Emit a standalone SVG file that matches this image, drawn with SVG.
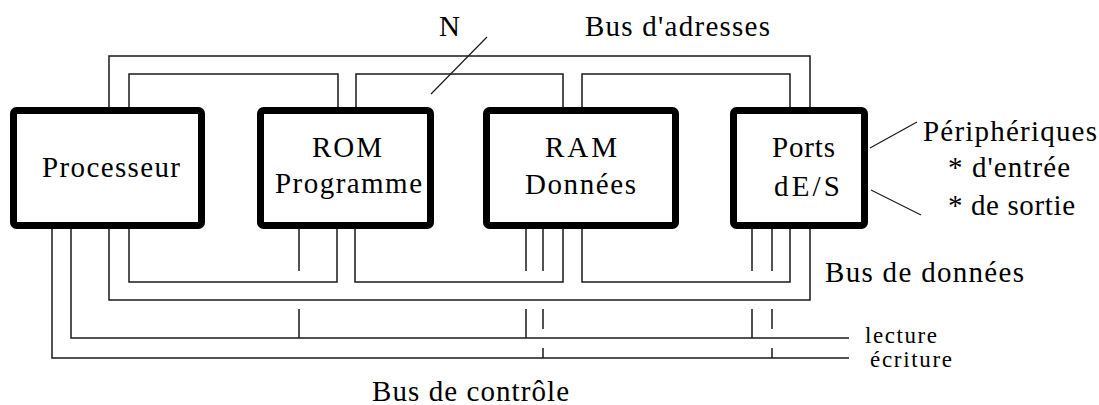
<svg xmlns="http://www.w3.org/2000/svg" width="1099" height="405" viewBox="0 0 1099 405">
  <style>
    .box { fill: #ffffff; stroke: #000000; stroke-width: 7; }
    .bus { fill: none; stroke: #1a1a1a; stroke-width: 1.5; stroke-linejoin: miter; }
    .thin { fill: none; stroke: #1a1a1a; stroke-width: 1.2; }
    text { font-family: "Liberation Serif", "DejaVu Serif", serif; font-size: 29px; fill: #000000; }
    .small { font-size: 23px; }
  </style>
  <rect x="0" y="0" width="1099" height="405" fill="#ffffff"/>

  <g id="connectors">
    <!-- Bus d'adresses -->
    <path class="bus" d="M109,110 V56 H810 V110"/>
    <path class="bus" d="M129,110 V74 H338 V110"/>
    <path class="bus" d="M356,110 V74 H563 V110"/>
    <path class="bus" d="M582,110 V74 H790 V110"/>
    <!-- Bus de données -->
    <path class="bus" d="M129,226 V282 H337 V226"/>
    <path class="bus" d="M355,226 V282 H563 V226"/>
    <path class="bus" d="M582,226 V282 H790 V226"/>
    <path class="bus" d="M109,226 V300 H810 V226"/>
    <!-- Bus de contrôle -->
    <path class="bus" d="M71,226 V338 H849"/>
    <path class="bus" d="M52,226 V358 H849"/>
    <!-- Stubs -->
    <path class="bus" d="M299,226 V271 M299,309 V338"/>
    <path class="bus" d="M526,226 V271 M526,309 V338"/>
    <path class="bus" d="M543,226 V271 M543,309 V329 M543,348 V358"/>
    <path class="bus" d="M752,226 V271 M752,309 V338"/>
    <path class="bus" d="M772,226 V271 M772,309 V329 M772,348 V358"/>
    <!-- N slash -->
    <path class="thin" d="M487,37 L431,94"/>
    <!-- Peripheral lines -->
    <path class="thin" d="M870,148 L917,122"/>
    <path class="thin" d="M871,190 L921,215"/>
  </g>

  <g id="processeur">
    <rect class="box" x="13.5" y="110.5" width="188" height="115" rx="3"/>
    <text x="42" y="177" textLength="138" lengthAdjust="spacing">Processeur</text>
  </g>
  <g id="rom">
    <rect class="box" x="260.5" y="110.5" width="170" height="115" rx="3"/>
    <text x="312" y="157" textLength="70" lengthAdjust="spacing">ROM</text>
    <text x="275" y="193" textLength="147" lengthAdjust="spacing">Programme</text>
  </g>
  <g id="ram">
    <rect class="box" x="486.5" y="110.5" width="189" height="115" rx="3"/>
    <text x="545" y="157" textLength="72" lengthAdjust="spacing">RAM</text>
    <text x="525" y="194" textLength="111" lengthAdjust="spacing">Données</text>
  </g>
  <g id="ports">
    <rect class="box" x="733.5" y="110.5" width="131" height="115" rx="3"/>
    <text x="772" y="157" textLength="63" lengthAdjust="spacing">Ports</text>
    <text x="774" y="196" textLength="66" lengthAdjust="spacing">dE/S</text>
  </g>

  <g id="labels">
    <text x="439" y="36">N</text>
    <text x="585" y="36" textLength="185" lengthAdjust="spacing">Bus d'adresses</text>
    <text x="923" y="141" textLength="174" lengthAdjust="spacing">Périphériques</text>
    <text x="948" y="177" textLength="122" lengthAdjust="spacing">* d'entrée</text>
    <text x="948" y="215" textLength="127" lengthAdjust="spacing">* de sortie</text>
    <text x="825" y="282" textLength="199" lengthAdjust="spacing">Bus de données</text>
    <text class="small" x="865" y="343" textLength="72" lengthAdjust="spacing">lecture</text>
    <text class="small" x="870" y="367" textLength="82" lengthAdjust="spacing">écriture</text>
    <text x="372" y="401" textLength="197" lengthAdjust="spacing">Bus de contrôle</text>
  </g>
</svg>
